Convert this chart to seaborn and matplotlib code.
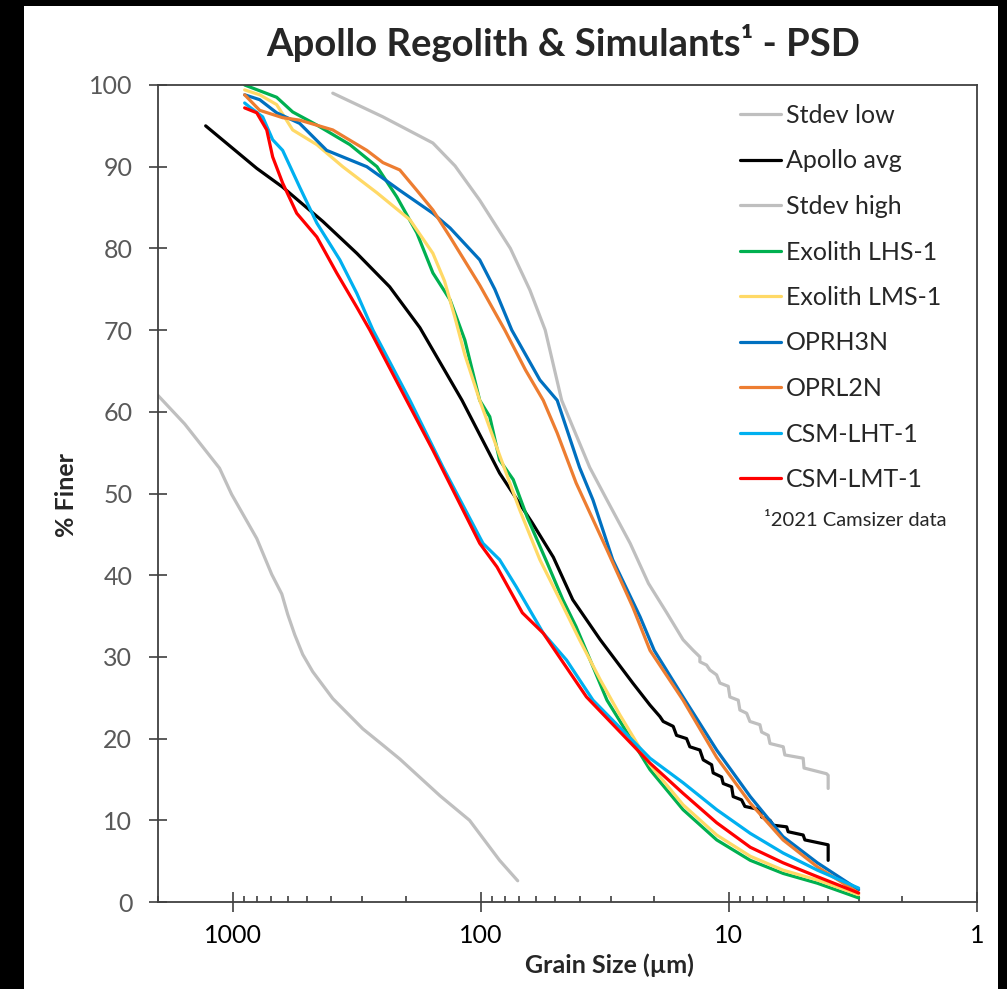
import numpy as np
import pandas as pd
import matplotlib
matplotlib.use("Agg")
import matplotlib.pyplot as plt
import seaborn as sns
from matplotlib.patches import Rectangle
from matplotlib.lines import Line2D
from matplotlib.ticker import LogLocator, FuncFormatter, NullFormatter

# ---------------- data (grain size in µm, % finer) ----------------
stdev_low_size = [2000, 1560, 1130, 1010, 800, 696, 634, 600, 562, 522, 476, 395, 299, 248, 212, 146, 111, 84, 71]
stdev_low_pct = [62.0, 58.5, 53.1, 49.9, 44.5, 40.1, 37.7, 35.2, 32.7, 30.3, 28.2, 24.9, 21.2, 19.2, 17.5, 13.0, 10.0, 5.1, 2.6]

apollo_size = [1285, 800, 629, 433, 316, 233, 176, 119, 84, 62, 51, 42.6, 33.0, 24.4, 20.8,
               18.97, 18.4, 16.77, 16.26, 14.81, 14.37, 13.09, 12.69, 11.74, 11.57, 10.70, 10.54,
               9.75, 9.61, 8.89, 8.62, 7.50, 7.38, 6.83, 6.63, 5.85, 5.77, 5.02, 4.94, 3.98, 3.98]
apollo_pct = [95.0, 89.8, 87.5, 83.3, 79.4, 75.3, 70.3, 61.4, 52.5, 46.4, 42.2, 37.0, 32.1, 26.8, 24.1,
              22.7, 22.1, 21.5, 20.4, 20.0, 19.0, 18.6, 17.4, 16.8, 15.8, 15.3, 14.5,
              14.1, 12.9, 12.5, 11.7, 11.3, 10.4, 10.0, 9.4, 9.2, 8.6, 8.2, 7.6, 7.0, 5.1]

stdev_high_size = [395, 248, 156, 127, 101, 76, 63.4, 55, 47.2, 36.4, 31.0, 25.0, 21.1, 17.8, 15.3, 13.93,
                   13.09, 13.09, 12.3, 11.93, 11.21, 10.87, 10.06, 9.91, 9.17, 9.03, 8.48, 8.23,
                   7.50, 7.38, 6.94, 6.83, 6.04, 5.95, 5.02, 4.98, 4.04, 3.98, 3.98]
stdev_high_pct = [99.0, 96.1, 92.9, 90.1, 85.9, 80.0, 74.9, 70.0, 61.4, 53.2, 49.2, 43.9, 39.0, 35.4, 32.1, 30.8,
                  30.0, 29.4, 29.0, 28.4, 27.8, 26.8, 26.4, 25.1, 24.7, 23.5, 23.1, 22.1,
                  21.7, 20.8, 20.4, 19.4, 19.0, 18.0, 17.6, 16.4, 15.7, 15.5, 13.9]

lhs1_size = [895, 665, 573, 458, 337, 262, 218, 181, 156, 133, 116, 101, 92, 84, 74, 65, 54, 46.7, 41.3, 35.3, 31.0, 20.8, 15.3, 11.2, 8.2, 6.05, 4.4, 3.0]
lhs1_pct = [100.0, 98.5, 96.7, 95.1, 92.7, 90.0, 86.3, 81.9, 77.0, 73.7, 68.8, 61.4, 59.4, 54.1, 51.7, 47.1, 41.5, 37.0, 33.7, 28.8, 24.7, 16.2, 11.3, 7.6, 5.1, 3.5, 2.3, 0.5]

lms1_size = [895, 778, 665, 573, 458, 360, 262, 193, 156, 140, 127, 116, 101, 84, 69.7, 57.8, 48, 40.0, 33.0, 27.5, 20.8, 15.3, 11.2, 8.2, 6.05, 4.4, 3.0]
lms1_pct = [99.4, 98.8, 97.6, 94.5, 92.7, 90.0, 86.8, 83.5, 79.4, 76.0, 71.5, 67.0, 61.4, 54.7, 48.0, 41.9, 37.0, 32.1, 27.2, 22.9, 16.8, 11.9, 8.2, 5.6, 3.9, 2.7, 0.9]

oprh3n_size = [895, 778, 665, 537, 418, 288, 212, 156, 133, 101, 87.8, 75, 57.8, 49.2, 40.0, 35.3, 29.4, 22.8, 20.0, 15.3, 11.2, 8.2, 6.05, 4.4, 3.0]
oprh3n_pct = [98.8, 98.2, 96.6, 95.3, 92.0, 90.0, 87.1, 84.3, 82.5, 78.6, 75.0, 70.0, 63.9, 61.4, 53.2, 49.2, 41.9, 34.9, 30.8, 25.1, 18.6, 12.9, 8.0, 4.8, 1.5]

oprl2n_size = [895, 778, 629, 537, 395, 288, 248, 212, 181, 156, 133, 101, 80, 66, 56, 49.2, 41.3, 31.0, 24.4, 20.8, 15.3, 11.2, 8.2, 6.05, 4.4, 3.0]
oprl2n_pct = [98.8, 96.9, 96.0, 95.7, 94.5, 92.0, 90.5, 89.6, 87.1, 84.7, 81.4, 75.5, 70.0, 65.1, 61.4, 57.4, 51.3, 43.1, 36.1, 30.8, 24.7, 17.7, 12.1, 7.6, 4.3, 1.1]

lht1_size = [895, 854, 757, 690, 629, 537, 458, 370, 316, 272, 193, 142, 98, 84, 72, 56, 45.1, 35.3, 20.8, 15.3, 11.2, 8.2, 6.05, 4.4, 3.0]
lht1_pct = [97.8, 97.3, 96.1, 93.3, 92.0, 87.5, 83.1, 78.6, 74.5, 70.0, 61.4, 53.2, 43.9, 41.9, 38.6, 32.9, 29.6, 24.7, 17.6, 14.6, 11.3, 8.4, 6.0, 3.9, 1.7]

lmt1_size = [895, 800, 729, 690, 629, 552, 458, 381, 316, 280, 199, 156, 101, 86, 68, 56, 37.5, 20.8, 15.3, 11.2, 8.2, 6.05, 4.4, 3.0]
lmt1_pct = [97.2, 96.6, 94.5, 91.2, 88.0, 84.3, 81.4, 77.0, 72.8, 70.0, 61.4, 55.3, 43.9, 41.0, 35.4, 32.9, 25.1, 17.0, 13.3, 9.7, 6.7, 4.8, 3.1, 1.1]

series_names = ["Stdev low", "Apollo avg", "Stdev high", "Exolith LHS-1", "Exolith LMS-1",
                "OPRH3N", "OPRL2N", "CSM-LHT-1", "CSM-LMT-1"]
series_data = [(stdev_low_size, stdev_low_pct), (apollo_size, apollo_pct), (stdev_high_size, stdev_high_pct),
               (lhs1_size, lhs1_pct), (lms1_size, lms1_pct), (oprh3n_size, oprh3n_pct),
               (oprl2n_size, oprl2n_pct), (lht1_size, lht1_pct), (lmt1_size, lmt1_pct)]
series_colors = ["#BFBFBF", "#000000", "#BFBFBF", "#00B050", "#FFD966",
                 "#0070C0", "#ED7D31", "#00B0F0", "#FF0000"]

x_ticks = [1000, 100, 10, 1]
y_ticks = list(range(0, 101, 10))

# ---------------- style ----------------
sns.set_style("white")
plt.rcParams["font.family"] = ["Lato", "DejaVu Sans"]

W, H = 1007, 989
fig = plt.figure(figsize=(W / 100, H / 100), dpi=100)
fig.patch.set_facecolor("black")
fig.add_artist(Rectangle((24 / W, 0), (998 - 24) / W, (H - 6) / H, transform=fig.transFigure,
                         facecolor="white", edgecolor="none", zorder=-10))

L, R, T, B = 158, 977, 85, 902
ax = fig.add_axes([L / W, 1 - B / H, (R - L) / W, (B - T) / H])
ax.set_facecolor("white")

LW = 2.3
for name, (xs, ys), col in zip(series_names, series_data, series_colors):
    df = pd.DataFrame({"size": xs, "pct": ys, "series": name})
    sns.lineplot(data=df, x="size", y="pct", color=col, sort=False, estimator=None,
                 lw=LW, ax=ax, legend=False)

ax.set_xscale("log")
ax.set_xlim(2000, 1)
ax.set_ylim(0, 100)

ax.xaxis.set_major_locator(LogLocator(base=10))
ax.xaxis.set_minor_locator(LogLocator(base=10, subs=np.arange(2, 10)))
ax.xaxis.set_major_formatter(FuncFormatter(lambda v, p: f"{v:g}"))
ax.xaxis.set_minor_formatter(NullFormatter())
ax.set_xticks(x_ticks)
ax.set_yticks(y_ticks)

spine_col = "#404040"
for s in ax.spines.values():
    s.set_color(spine_col)
    s.set_linewidth(1.3)

ax.tick_params(axis="x", which="both", bottom=True, top=False)
ax.tick_params(axis="y", which="major", left=True, right=False)
ax.tick_params(axis="x", which="major", direction="inout", length=14, width=1.2, color=spine_col,
               labelsize=18, labelcolor="black", pad=9)
ax.tick_params(axis="x", which="minor", direction="in", length=4.5, width=1.2, color=spine_col)
ax.tick_params(axis="y", which="major", direction="inout", length=13, width=1.2, color=spine_col,
               labelsize=18, labelcolor="#595959", pad=12)
ax.tick_params(axis="y", which="minor", left=False)

ax.set_xlabel("Grain Size (µm)", fontsize=18, fontweight="bold")
ax.xaxis.set_label_coords((609 - L) / (R - L), (B - 953) / (B - T))
ax.set_ylabel("% Finer", fontsize=18, fontweight="bold")
ax.yaxis.label.set_verticalalignment("center")
ax.yaxis.set_label_coords((67 - L) / (R - L), (B - 495) / (B - T))

ax.text((563 - L) / (R - L), (B - 43) / (B - T), "Apollo Regolith & Simulants¹ - PSD",
        transform=ax.transAxes, ha="center", va="center", fontsize=27.5, fontweight="bold")

handles = [Line2D([], [], color=c, lw=LW) for c in series_colors]
ax.legend(handles, series_names, loc="upper left",
          bbox_to_anchor=((740 - L) / (R - L), (B - 104) / (B - T)),
          frameon=False, fontsize=18, borderpad=0, borderaxespad=0,
          handlelength=1.65, handletextpad=0.18, labelspacing=0.9)

ax.text((855 - L) / (R - L), (B - 520) / (B - T), "¹2021 Camsizer data",
        transform=ax.transAxes, ha="center", va="center", fontsize=14.5)

fig.savefig("out.png", dpi=100, facecolor=fig.get_facecolor())
